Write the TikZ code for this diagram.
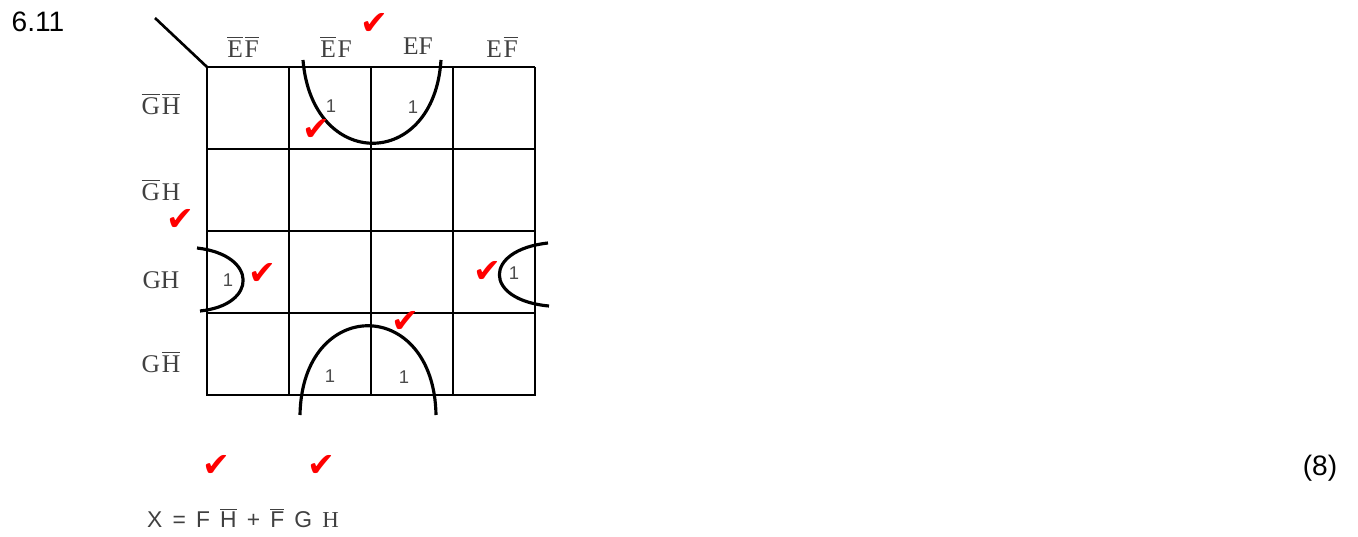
\documentclass[tikz,border=0pt]{standalone}
\usepackage{amsmath}
\usepackage{fontspec}
\setmainfont{Liberation Sans}
\newfontfamily\labfont{Liberation Serif}
\newfontfamily\tickfont{DejaVu Sans}
\usetikzlibrary{positioning}
\tikzstyle{lab}=[font=\labfont\fontsize{14.5}{14.5}\selectfont, text=black!75]
\tikzstyle{one}=[font=\fontsize{10.5}{10.5}\selectfont, text=black!70]
\tikzstyle{tick}=[font=\tickfont\fontsize{19}{19}\selectfont, text=red, inner sep=0pt]
\tikzstyle{gridline}=[line width=1.5pt]
\tikzstyle{loopline}=[line width=1.8pt]
\newcommand{\nb}[1]{$\overline{\text{#1}}$}

\begin{document}
\begin{tikzpicture}[x=0.02cm,y=-0.02cm]
\useasboundingbox (0,0) rectangle (1358,537);
\node (qno) at (38,22) {\fontsize{16}{16}\selectfont 6.11};
\node (marks) at (1320,468) {\fontsize{16}{16}\selectfont (8)};
% map
\coordinate (diag) at (155,18);
\coordinate (corner) at (207,67);
\draw[gridline] (diag) -- (corner);
\foreach \i in {0,...,4} {
\draw[gridline] (207+82*\i,67) -- (207+82*\i,396);
\draw[gridline] (207,67+82*\i) -- (535,67+82*\i);
}
\foreach \n/\x/\y/\t in {1/243/47/{\nb{E}\kern1pt\nb{F}},2/336/47/{\nb{E}\kern1pt F},3/418/46/{EF},4/502/47/{E\kern1pt\nb{F}}}
\node[lab] (col\n) at (\x,\y) {\t};
\foreach \n/\y/\t in {1/104/{\nb{G}\kern1pt\nb{H}},2/190/{\nb{G}\kern1pt H},3/280/{GH},4/362/{G\kern1pt\nb{H}}}
\node[lab] (row\n) at (161,\y) {\t};
% ones
\foreach \n/\x/\y in {1/331/106,2/413/107,3/228/280,4/514/273,5/330/376,6/404/377}
\node[one] (one\n) at (\x,\y) {1};
% loops
\draw[loopline] (303,60) .. controls (312,171) and (434,171) .. (441,60);
\draw[loopline] (300,415) .. controls (302,296) and (434,296) .. (436,415);
\draw[loopline] (197,248) .. controls (258,255) and (258,305) .. (200,311);
\draw[loopline] (548,243) .. controls (483,250) and (483,300) .. (549,306);
% ticks
\foreach \n/\x/\y in {1/374/24,2/316/130,3/180/220,4/262/274,5/487/272,6/405/322,7/216/466,8/321/466}
\node[tick] (tick\n) at (\x,\y) {✔};
% answer
\node[text=black!75, font=\fontsize{13}{13}\selectfont] (ans) at (243,518) {X\, =\, F\, \nb{H}\, +\, \nb{F}\, G\, {\labfont H}};
\end{tikzpicture}
\end{document}
